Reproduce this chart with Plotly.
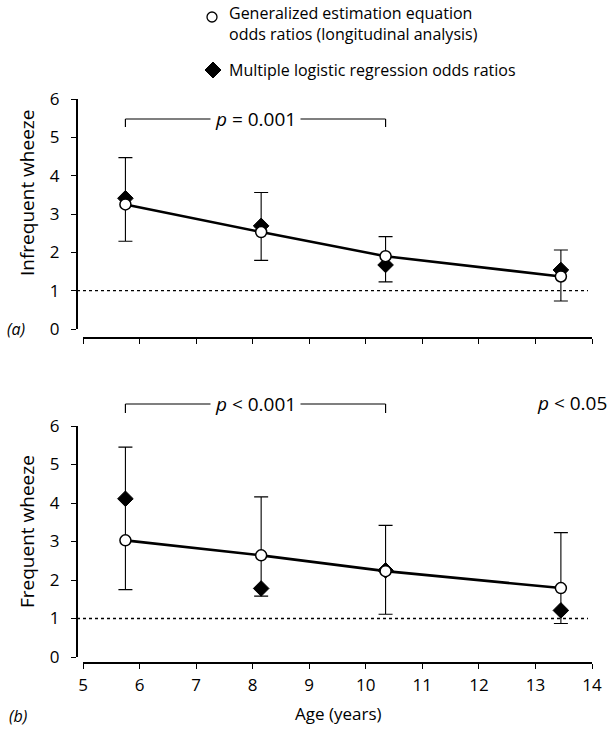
import plotly.graph_objects as go

# ---------------- data ----------------
ages = [5.75, 8.15, 10.35, 13.45]

# (a) Infrequent wheeze
gee_a = [3.25, 2.53, 1.90, 1.37]
gee_a_hi = [4.47, 3.56, 2.41, 2.06]
gee_a_lo = [2.29, 1.79, 1.23, 0.73]
mlr_a = [3.41, 2.69, 1.67, 1.54]

# (b) Frequent wheeze
gee_b = [3.03, 2.64, 2.23, 1.79]
gee_b_hi = [5.45, 4.16, 3.42, 3.23]
gee_b_lo = [1.75, 1.58, 1.11, 0.87]
mlr_b = [4.11, 1.78, 2.25, 1.21]

x_ticks = [5, 6, 7, 8, 9, 10, 11, 12, 13, 14]
y_ticks = [0, 1, 2, 3, 4, 5, 6]

legend_gee = "Generalized estimation equation<br>odds ratios (longitudinal analysis)"
legend_mlr = "Multiple logistic regression odds ratios"
ylab_a = "Infrequent wheeze"
ylab_b = "Frequent wheeze"
xlab = "Age (years)"
p_a = "<i>p</i> = 0.001"
p_b = "<i>p</i> < 0.001"
p_b2 = "<i>p</i> < 0.05"

# ---------------- layout helpers ----------------
W, H = 612, 730
FONT = "Open Sans"
def px_x(p):
    return p / W
def px_y(p):
    return 1 - p / H

fig = go.Figure()

def add_panel(xa, ya, gee, hi, lo, mlr):
    fig.add_trace(go.Scatter(
        x=ages, y=mlr, mode="markers", xaxis=xa, yaxis=ya,
        marker=dict(symbol="diamond", size=12, color="black",
                    line=dict(color="black", width=1)),
        showlegend=False, cliponaxis=False))
    fig.add_trace(go.Scatter(
        x=ages, y=gee, mode="lines+markers", xaxis=xa, yaxis=ya,
        line=dict(color="black", width=2.6),
        marker=dict(symbol="circle", size=11, color="white",
                    line=dict(color="black", width=1.5)),
        error_y=dict(type="data", symmetric=False,
                     array=[h - g for h, g in zip(hi, gee)],
                     arrayminus=[g - l for g, l in zip(gee, lo)],
                     color="black", thickness=1.1, width=7),
        showlegend=False, cliponaxis=False))

add_panel("x", "y", gee_a, gee_a_hi, gee_a_lo, mlr_a)
add_panel("x2", "y2", gee_b, gee_b_hi, gee_b_lo, mlr_b)

xdom = [px_x(83), px_x(592)]
ypos = px_x(77)
ax_common = dict(range=[5, 14], tickvals=x_ticks, ticks="outside", ticklen=5,
                 tickwidth=1.3, tickcolor="black", showline=True, linecolor="black",
                 linewidth=2.2, showgrid=False, zeroline=False, domain=xdom,
                 anchor="free", automargin=False,
                 tickfont=dict(family=FONT, size=17, color="black"))
ay_common = dict(range=[0, 6], tickvals=y_ticks, ticks="outside", ticklen=5,
                 tickwidth=1.3, tickcolor="black", showline=True, linecolor="black",
                 linewidth=2.2, showgrid=False, zeroline=False, anchor="free",
                 position=ypos, ticklabelstandoff=8, automargin=False,
                 tickfont=dict(family=FONT, size=17, color="black"))

fig.update_layout(
    width=W, height=H, margin=dict(l=0, r=0, t=0, b=0, pad=0, autoexpand=False),
    paper_bgcolor="white", plot_bgcolor="rgba(0,0,0,0)",
    xaxis=dict(**ax_common, position=px_y(337.5), showticklabels=False),
    yaxis=dict(**ay_common, domain=[px_y(329), px_y(99)]),
    xaxis2=dict(**ax_common, position=px_y(663), showticklabels=True,
                ticklabelstandoff=1),
    yaxis2=dict(**ay_common, domain=[px_y(657), px_y(426)]),
    showlegend=False,
)

# reference dotted lines at OR = 1
for yr in ["y", "y2"]:
    fig.add_shape(type="line", xref="paper", yref=yr, x0=px_x(77), x1=px_x(588),
                  y0=1, y1=1, line=dict(color="black", width=1.3, dash="dot"))

def note(x, y, text, size=16, xref="paper", xanchor="center", **kw):
    fig.add_annotation(x=x, y=y, xref=xref, yref="paper", text=text, showarrow=False,
                       xanchor=xanchor, yanchor="middle",
                       font=dict(family=FONT, size=size, color="black"), **kw)

# significance brackets
def bracket(xr, y_line, y_tick, text):
    fig.add_shape(type="line", xref=xr, yref="paper", x0=ages[0], x1=ages[2],
                  y0=px_y(y_line), y1=px_y(y_line), line=dict(color="black", width=1.2))
    for xv in (ages[0], ages[2]):
        fig.add_shape(type="line", xref=xr, yref="paper", x0=xv, x1=xv,
                      y0=px_y(y_line), y1=px_y(y_tick), line=dict(color="black", width=1.2))
    note((ages[0] + ages[2]) / 2, px_y(y_line), text, size=19, xref=xr,
         bgcolor="white", borderpad=4)

bracket("x", 119, 127, p_a)
bracket("x2", 404, 413, p_b)
note(px_x(609), px_y(403), p_b2, size=19, xanchor="right")

# axis titles
note(px_x(27), px_y(193), ylab_a, size=19, textangle=-90)
note(px_x(27), px_y(532), ylab_b, size=19, textangle=-90)
note(px_x(338), px_y(713), xlab, size=17)

# panel labels
note(px_x(16), px_y(329), "<i>(a)</i>", size=16)
note(px_x(18), px_y(716), "<i>(b)</i>", size=16)

# legend symbols (pixel-sized shapes anchored in paper coordinates)
fig.add_shape(type="circle", xref="paper", yref="paper", xsizemode="pixel",
              ysizemode="pixel", xanchor=px_x(212), yanchor=px_y(17),
              x0=-5, x1=5, y0=-5, y1=5, line=dict(color="black", width=1.3),
              fillcolor="white")
fig.add_shape(type="path", xref="paper", yref="paper", xsizemode="pixel",
              ysizemode="pixel", xanchor=px_x(213), yanchor=px_y(70),
              path="M -8 0 L 0 8 L 8 0 L 0 -8 Z", line=dict(color="black", width=1),
              fillcolor="black")
note(px_x(227), px_y(24), legend_gee, xanchor="left", align="left")
note(px_x(227), px_y(70), legend_mlr, xanchor="left", align="left")

fig.write_html("out.html")
